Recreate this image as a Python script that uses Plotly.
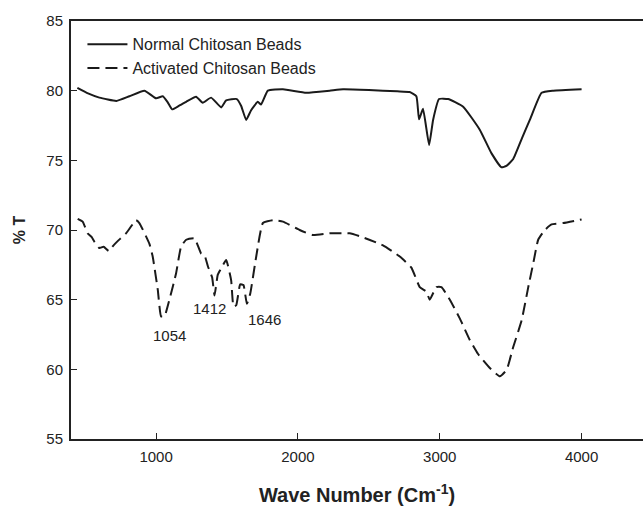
import plotly.graph_objects as go

# Normal chitosan beads (solid)
normal_x = [445, 520, 600, 720, 812, 918, 1000, 1047, 1080, 1113, 1160, 1212, 1282, 1329, 1388,
            1459, 1494, 1569, 1600, 1635, 1670, 1717, 1740, 1788, 1894, 2059, 2224, 2318, 2500,
            2700, 2788, 2835, 2854, 2882, 2925, 2953, 2995, 3059, 3165, 3282, 3365, 3435, 3470,
            3518, 3580, 3635, 3718, 3800, 4000]
normal_y = [80.2, 79.8, 79.5, 79.26, 79.6, 80.0, 79.45, 79.6, 79.2, 78.66, 78.9, 79.2, 79.57, 79.14, 79.5,
            78.8, 79.3, 79.4, 78.9, 77.9, 78.6, 79.2, 79.0, 80.0, 80.1, 79.85, 80.0, 80.1, 80.05,
            79.95, 79.9, 79.6, 77.94, 78.7, 76.1, 77.9, 79.4, 79.4, 78.85, 77.2, 75.5, 74.5, 74.6,
            75.1, 76.6, 77.9, 79.85, 80.0, 80.1]

# Activated chitosan beads (dashed)
activated_x = [447, 482, 518, 545, 565, 600, 630, 666, 700, 729, 788, 859, 882, 953, 976, 1012,
               1035, 1059, 1094, 1141, 1176, 1212, 1271, 1318, 1341, 1365, 1395, 1412, 1435, 1459,
               1494, 1529, 1546, 1565, 1593, 1616, 1640, 1664, 1706, 1753, 1823, 1894, 2012, 2106,
               2224, 2365, 2459, 2600, 2718, 2800, 2859, 2906, 2929, 2976, 3012, 3071, 3141, 3212,
               3270, 3353, 3424, 3471, 3518, 3577, 3624, 3659, 3694, 3741, 3788, 3871, 4000]
activated_y = [70.8, 70.6, 69.76, 69.5, 69.16, 68.7, 68.8, 68.5, 68.9, 69.2, 69.76, 70.7, 70.5, 69.0, 68.1, 65.7,
               63.8, 63.8, 65.0, 66.9, 68.8, 69.3, 69.4, 68.3, 68.2, 67.4, 66.6, 65.3, 66.8, 67.25,
               67.84, 66.4, 64.5, 64.6, 66.1, 66.05, 64.7, 65.45, 68.1, 70.5, 70.7, 70.6, 70.0, 69.64,
               69.76, 69.76, 69.47, 68.9, 68.1, 67.3, 65.9, 65.57, 65.0, 65.9, 65.9, 65.0, 63.66, 62.1,
               61.1, 60.1, 59.5, 59.95, 61.6, 63.5, 65.9, 67.6, 69.3, 70.0, 70.4, 70.5, 70.76]

peak_labels = ["1054", "1412", "1646"]
peak_label_x = [1094, 1376, 1765]
peak_label_y = [62.4, 64.4, 63.6]

x_ticks = [1000, 2000, 3000, 4000]
y_ticks = [55, 60, 65, 70, 75, 80, 85]

FONT = "Liberation Sans, Arial, sans-serif"

fig = go.Figure()
fig.add_trace(go.Scatter(x=normal_x, y=normal_y, mode="lines", name="Normal Chitosan Beads",
                         line=dict(color="#1a1a1a", width=2, shape="spline", smoothing=0.4)))
fig.add_trace(go.Scatter(x=activated_x, y=activated_y, mode="lines", name="Activated Chitosan Beads",
                         line=dict(color="#1a1a1a", width=2, dash="12px,6px", shape="spline", smoothing=0.4)))

for t, xx, yy in zip(peak_labels, peak_label_x, peak_label_y):
    fig.add_annotation(x=xx, y=yy, text=t, showarrow=False,
                       font=dict(family=FONT, size=15, color="#222"))

fig.update_layout(
    width=643, height=508,
    margin=dict(l=71, r=0, t=21, b=69),
    paper_bgcolor="white", plot_bgcolor="white",
    font=dict(family=FONT, size=15, color="#222"),
    showlegend=True,
    legend=dict(x=0.02, y=0.985, xanchor="left", yanchor="top", itemwidth=40,
                bgcolor="rgba(0,0,0,0)", font=dict(family=FONT, size=16, color="#222"),
                tracegroupgap=0),
    xaxis=dict(range=[400, 4433], tickvals=x_ticks, ticks="inside", ticklen=6, tickwidth=1,
               tickcolor="#222", showline=True, linecolor="#222", linewidth=2, mirror=True,
               showgrid=False, zeroline=False, ticklabelstandoff=3,
               title=dict(text="<b>Wave Number (Cm<sup>-1</sup>)</b>", font=dict(family=FONT, size=20),
                          standoff=24)),
    yaxis=dict(range=[55, 85], tickvals=y_ticks, ticks="inside", ticklen=6, tickwidth=1,
               tickcolor="#222", showline=True, linecolor="#222", linewidth=2,
               showgrid=False, zeroline=False, ticklabelstandoff=3,
               title=dict(text="<b>% T</b>", font=dict(family=FONT, size=16), standoff=17)),
)

fig.write_html("out.html", config={"displayModeBar": False},
               post_script="document.body.style.margin='0px';document.body.style.overflow='hidden';")
